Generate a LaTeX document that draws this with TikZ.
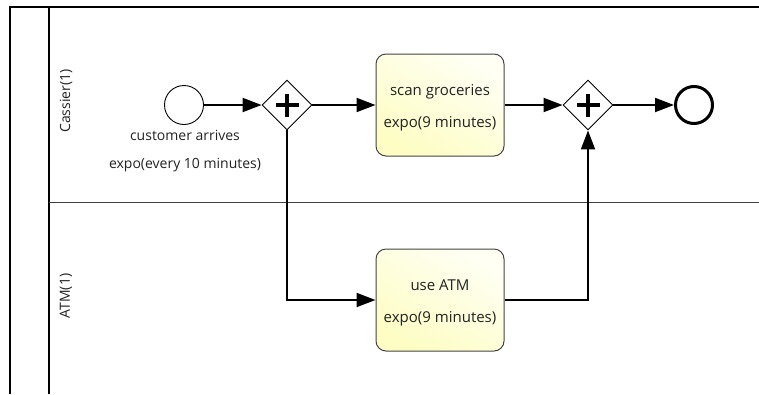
\documentclass[tikz,border=0pt]{standalone}
\usepackage{fontspec}
\setmainfont{Open Sans}
\usetikzlibrary{arrows.meta,shapes.geometric}

\definecolor{txt}{HTML}{222222}
\definecolor{taskLight}{HTML}{FFFFF4}
\definecolor{taskDark}{HTML}{FDFDC4}
\definecolor{taskEdge}{HTML}{444444}

\tikzset{
  poolline/.style={line width=1.5pt, black},
  laneline/.style={line width=0.9pt, black!75},
  lanelabel/.style={rotate=90, text=txt, font=\fontsize{14}{16}\selectfont},
  flow/.style={line width=2pt, -{Triangle[length=19pt,width=14pt]}},
  startevent/.style={circle, draw, line width=0.9pt, minimum size=39pt, inner sep=0pt},
  endevent/.style={circle, draw, line width=3pt, minimum size=37pt, inner sep=0pt},
  gateway/.style={diamond, draw, line width=0.9pt, fill=white, minimum width=50pt, minimum height=50pt, inner sep=0pt},
  task/.style={rectangle, rounded corners=10pt, draw=taskEdge, line width=1pt,
    left color=taskLight, right color=taskDark, shading angle=-30,
    minimum width=128pt, minimum height=102pt, align=center, text=txt,
    text height=48pt, font=\fontsize{15}{32}\selectfont},
  evlabel/.style={align=center, text=txt, font=\fontsize{14}{28}\selectfont},
  plus/.style={line width=4pt}
}

\begin{document}
\begin{tikzpicture}[x=1pt,y=-1pt]
  \useasboundingbox (0,0) rectangle (759,394);

  % pool and lanes
  \draw[poolline] (10,394) -- (10,7) -- (759,7);
  \draw[poolline] (49,7) -- (49,394);
  \draw[laneline] (49,202) -- (759,202);
  \node[lanelabel] (laneA) at (66,101) {Cassier(1)};
  \node[lanelabel] (laneB) at (66,296) {ATM(1)};

  % flow elements
  \node[startevent] (start) at (184,105) {};
  \node[evlabel] (startlbl) at (185,151) {customer arrives\\expo(every 10 minutes)};
  \node[gateway] (g1) at (287,105) {};
  \node[task] (t1) at (440,105) {scan groceries\\expo(9 minutes)};
  \node[task] (t2) at (440,300) {use ATM\\expo(9 minutes)};
  \node[gateway] (g2) at (588,105) {};
  \node[endevent] (end) at (694,105) {};

  % parallel markers
  \foreach \g in {g1,g2} {
    \draw[plus] ([xshift=-11.5pt]\g.center) -- ([xshift=11.5pt]\g.center);
    \draw[plus] ([yshift=-11.5pt]\g.center) -- ([yshift=11.5pt]\g.center);
  }

  % sequence flows
  \draw[flow] (start) -- (g1);
  \draw[flow] (g1) -- (t1);
  \draw[flow] (t1) -- (g2);
  \draw[flow] (g2) -- (end);
  \draw[flow] (g1.south) |- (t2.west);
  \draw[flow] (t2.east) -| (g2.south);
\end{tikzpicture}
\end{document}
